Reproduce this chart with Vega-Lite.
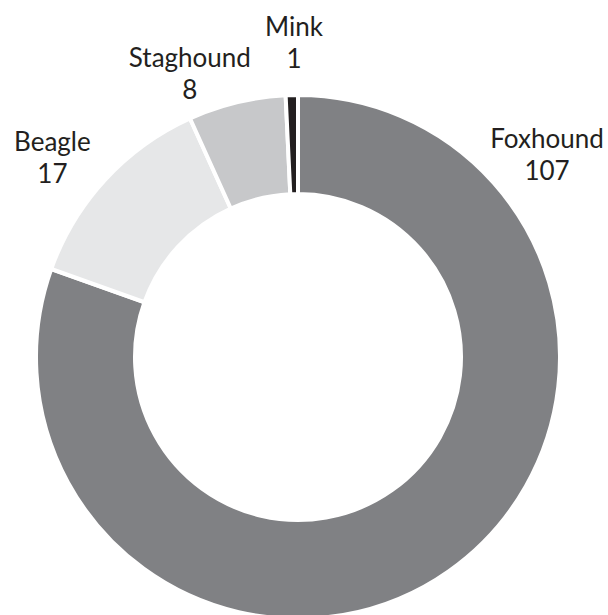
{
  "$schema": "https://vega.github.io/schema/vega-lite/v6.json",
  "width": 520,
  "height": 520,
  "autosize": {"type": "none"},
  "padding": {"left": 38, "top": 97, "right": 50, "bottom": 0},
  "background": "white",
  "config": {
    "view": {"stroke": null},
    "text": {"font": "Lato", "fontSize": 26, "lineBreak": "\n", "lineHeight": 32, "fill": "#231f20", "baseline": "middle", "align": "center"}
  },
  "data": {
    "values": [
      {"breed": "Foxhound", "count": 107, "rank": 1},
      {"breed": "Beagle", "count": 17, "rank": 2},
      {"breed": "Staghound", "count": 8, "rank": 3},
      {"breed": "Mink", "count": 1, "rank": 4}
    ]
  },
  "transform": [
    {"calculate": "datum.breed + '\\n' + datum.count", "as": "label"}
  ],
  "layer": [
    {
      "mark": {"type": "arc", "outerRadius": 262, "innerRadius": 163, "stroke": "white", "strokeWidth": 4},
      "encoding": {
        "theta": {"field": "count", "type": "quantitative", "stack": true},
        "order": {"field": "rank", "type": "quantitative"},
        "color": {
          "field": "breed",
          "type": "nominal",
          "scale": {
            "domain": ["Foxhound", "Beagle", "Staghound", "Mink"],
            "range": ["#808184", "#e6e7e8", "#c7c8ca", "#231f20"]
          },
          "legend": null
        }
      }
    },
    {
      "transform": [{"filter": "datum.breed === 'Foxhound'"}],
      "mark": {"type": "text", "theta": 0.855, "radius": 330},
      "encoding": {"text": {"field": "label", "type": "nominal"}}
    },
    {
      "transform": [{"filter": "datum.breed === 'Beagle'"}],
      "mark": {"type": "text", "theta": 5.43, "radius": 326},
      "encoding": {"text": {"field": "label", "type": "nominal"}}
    },
    {
      "transform": [{"filter": "datum.breed === 'Staghound'"}],
      "mark": {"type": "text", "theta": 5.935, "radius": 317},
      "encoding": {"text": {"field": "label", "type": "nominal"}}
    },
    {
      "transform": [{"filter": "datum.breed === 'Mink'"}],
      "mark": {"type": "text", "theta": 6.271, "radius": 329},
      "encoding": {"text": {"field": "label", "type": "nominal"}}
    }
  ]
}
